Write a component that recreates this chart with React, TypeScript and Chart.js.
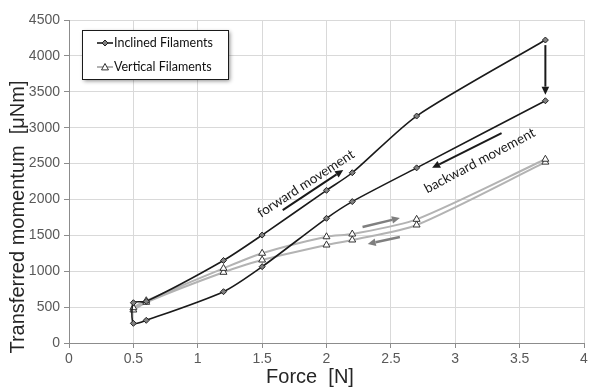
import React, { useEffect, useRef } from "react";
import { Chart, registerables } from "chart.js";

Chart.register(...registerables);

// Force steps: loading goes up the upper branch, unloading comes back down the lower one.
const forceInclined = [3.7, 2.7, 2.2, 2.0, 1.5, 1.2, 0.6, 0.5, 0.5, 0.6, 1.2, 1.5, 2.0, 2.2, 2.7, 3.7];
const momentumInclined = [3375, 2440, 1970, 1737, 1063, 715, 316, 274, 561, 580, 1150, 1504, 2127, 2372, 3162, 4221];

const forceVertical = [3.7, 2.7, 2.2, 2.0, 1.5, 1.2, 0.6, 0.5, 0.5, 0.6, 1.2, 1.5, 2.0, 2.2, 2.7, 3.7];
const momentumVertical = [2520, 1644, 1435, 1365, 1156, 985, 567, 460, 492, 589, 1040, 1250, 1480, 1518, 1723, 2560];

const seriesLabels = ["Inclined Filaments", "Vertical Filaments"];

const xTitle = "Force  [N]";
const yTitle = "Transferred momentum  [\u03bcNm]";

// Direction arrows, in data units (force, momentum)
const arrows = [
  { from: [1.66, 1852], to: [2.13, 2410], color: "#1a1a1a", width: 2 },
  { from: [3.36, 2925], to: [2.82, 2440], color: "#1a1a1a", width: 2 },
  { from: [3.7, 4150], to: [3.7, 3460], color: "#1a1a1a", width: 2 },
  { from: [2.28, 1616], to: [2.57, 1741], color: "#7f7f7f", width: 2.5 },
  { from: [2.57, 1477], to: [2.32, 1380], color: "#7f7f7f", width: 2.5 },
];

const notes = [
  { text: "forward movement", at: [1.84, 2220], angle: -33 },
  { text: "backward movement", at: [3.19, 2540], angle: -28 },
];

const SANS = "'Liberation Sans', Arial, sans-serif";
const NOTE_FONT = "Lato, 'Open Sans', sans-serif";

function drawDiamond(ctx: CanvasRenderingContext2D, x: number, y: number, r: number) {
  ctx.beginPath();
  ctx.moveTo(x, y - r);
  ctx.lineTo(x + r, y);
  ctx.lineTo(x, y + r);
  ctx.lineTo(x - r, y);
  ctx.closePath();
  ctx.fillStyle = "#808080";
  ctx.fill();
  ctx.strokeStyle = "#222";
  ctx.lineWidth = 1;
  ctx.stroke();
}

function drawTriangle(ctx: CanvasRenderingContext2D, x: number, y: number, r: number) {
  ctx.beginPath();
  ctx.moveTo(x, y - r);
  ctx.lineTo(x + r * 0.87, y + r * 0.6);
  ctx.lineTo(x - r * 0.87, y + r * 0.6);
  ctx.closePath();
  ctx.fillStyle = "#fff";
  ctx.fill();
  ctx.strokeStyle = "#333";
  ctx.lineWidth = 1;
  ctx.stroke();
}

function drawArrow(ctx: CanvasRenderingContext2D, x1: number, y1: number, x2: number, y2: number, color: string, width: number) {
  const ang = Math.atan2(y2 - y1, x2 - x1);
  const head = 8;
  const half = 3.8;
  const bx = x2 - head * Math.cos(ang);
  const by = y2 - head * Math.sin(ang);
  ctx.save();
  ctx.strokeStyle = color;
  ctx.fillStyle = color;
  ctx.lineWidth = width;
  ctx.beginPath();
  ctx.moveTo(x1, y1);
  ctx.lineTo(bx, by);
  ctx.stroke();
  ctx.beginPath();
  ctx.moveTo(x2, y2);
  ctx.lineTo(bx + half * Math.sin(ang), by - half * Math.cos(ang));
  ctx.lineTo(bx - half * Math.sin(ang), by + half * Math.cos(ang));
  ctx.closePath();
  ctx.fill();
  ctx.restore();
}

const overlayPlugin = {
  id: "overlay",
  afterDraw(chart: any) {
    const { ctx, scales } = chart;
    const xs = scales.x;
    const ys = scales.y;

    // annotation arrows
    arrows.forEach((a) => {
      drawArrow(
        ctx,
        xs.getPixelForValue(a.from[0]),
        ys.getPixelForValue(a.from[1]),
        xs.getPixelForValue(a.to[0]),
        ys.getPixelForValue(a.to[1]),
        a.color,
        a.width
      );
    });

    // annotation text
    notes.forEach((n) => {
      ctx.save();
      ctx.translate(xs.getPixelForValue(n.at[0]), ys.getPixelForValue(n.at[1]));
      ctx.rotate((n.angle * Math.PI) / 180);
      ctx.font = `13.5px ${NOTE_FONT}`;
      ctx.fillStyle = "#1a1a1a";
      ctx.textAlign = "center";
      ctx.textBaseline = "middle";
      ctx.fillText(n.text, 0, 0);
      ctx.restore();
    });

    // legend box
    const bx = 82;
    const by = 30;
    const bw = 146;
    const bh = 49;
    ctx.save();
    ctx.shadowColor = "rgba(0,0,0,0.45)";
    ctx.shadowBlur = 4;
    ctx.shadowOffsetX = 2;
    ctx.shadowOffsetY = 2;
    ctx.fillStyle = "#fff";
    ctx.fillRect(bx, by, bw, bh);
    ctx.restore();
    ctx.save();
    ctx.strokeStyle = "#1a1a1a";
    ctx.lineWidth = 1;
    ctx.strokeRect(bx + 0.5, by + 0.5, bw, bh);

    const rows = [
      { y: 43, color: "#1a1a1a", width: 1.6, marker: "diamond" },
      { y: 67, color: "#b3b3b3", width: 2, marker: "triangle" },
    ];
    rows.forEach((r, i) => {
      ctx.strokeStyle = r.color;
      ctx.lineWidth = r.width;
      ctx.beginPath();
      ctx.moveTo(97, r.y);
      ctx.lineTo(113, r.y);
      ctx.stroke();
      if (r.marker === "diamond") drawDiamond(ctx, 105, r.y, 3);
      else drawTriangle(ctx, 105, r.y + 0.5, 4);
      ctx.font = `12.5px ${NOTE_FONT}`;
      ctx.fillStyle = "#111";
      ctx.textAlign = "left";
      ctx.textBaseline = "middle";
      ctx.fillText(chart.data.datasets[i].label, 114, r.y);
    });
    ctx.restore();

    // axis titles
    ctx.save();
    ctx.fillStyle = "#262626";
    ctx.font = `20px ${SANS}`;
    ctx.textAlign = "center";
    ctx.textBaseline = "middle";
    ctx.fillText(xTitle, 310, 377);
    ctx.translate(18, 217);
    ctx.rotate(-Math.PI / 2);
    ctx.fillText(yTitle, 0, 0);
    ctx.restore();
  },
};

export default function App() {
  const canvasRef = useRef<HTMLCanvasElement | null>(null);

  useEffect(() => {
    document.body.style.margin = "0";
    const canvas = canvasRef.current;
    if (!canvas) return;

    const chart = new Chart(canvas, {
      type: "scatter",
      data: {
        datasets: [
          {
            label: seriesLabels[0],
            data: forceInclined.map((f, i) => ({ x: f, y: momentumInclined[i] })),
            showLine: true,
            tension: 0.25,
            borderColor: "#1a1a1a",
            borderWidth: 1.6,
            pointStyle: "rectRot",
            pointRadius: 3,
            pointBackgroundColor: "#808080",
            pointBorderColor: "#222",
            pointBorderWidth: 1,
            order: 1,
          },
          {
            label: seriesLabels[1],
            data: forceVertical.map((f, i) => ({ x: f, y: momentumVertical[i] })),
            showLine: true,
            tension: 0.25,
            borderColor: "#b3b3b3",
            borderWidth: 2,
            pointStyle: "triangle",
            pointRadius: 4,
            pointBackgroundColor: "#fff",
            pointBorderColor: "#333",
            pointBorderWidth: 1,
            order: 2,
          },
        ],
      },
      options: {
        responsive: false,
        animation: false,
        layout: { padding: { left: 0, top: 20, right: 4, bottom: 0 } },
        plugins: {
          legend: { display: false },
          tooltip: { enabled: false },
        },
        scales: {
          x: {
            type: "linear",
            min: 0,
            max: 4,
            afterFit: (s: any) => {
              s.height = 47;
              s.paddingRight = 0;
              s.paddingLeft = 0;
            },
            ticks: {
              stepSize: 0.5,
              color: "#595959",
              font: { family: SANS, size: 14 },
              padding: 3,
              maxRotation: 0,
              callback: (v: any) => String(Number(v)),
            },
            grid: {
              color: "#d9d9d9",
              tickColor: "#8c8c8c",
              tickLength: 5,
            },
            border: { color: "#8c8c8c" },
          },
          y: {
            type: "linear",
            min: 0,
            max: 4500,
            afterFit: (s: any) => {
              s.width = 69;
            },
            ticks: {
              stepSize: 500,
              color: "#595959",
              font: { family: SANS, size: 14 },
              padding: 4,
              callback: (v: any) => String(Number(v)),
            },
            grid: {
              color: "#d9d9d9",
              tickColor: "#8c8c8c",
              tickLength: 5,
            },
            border: { color: "#8c8c8c" },
          },
        },
      },
      plugins: [overlayPlugin],
    });

    return () => chart.destroy();
  }, []);

  return <canvas ref={canvasRef} width={589} height={390} style={{ display: "block" }} />;
}
